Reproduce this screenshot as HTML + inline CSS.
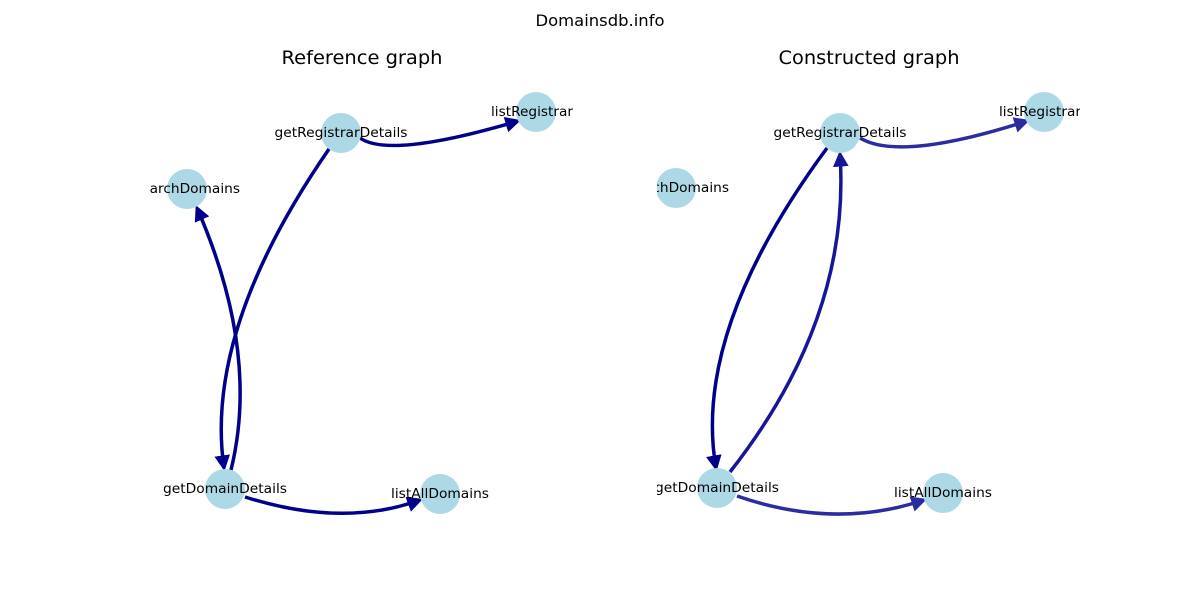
<!DOCTYPE html>
<html><head><meta charset="utf-8"><style>
html,body{margin:0;padding:0;background:#fff;}
svg text{font-family:"DejaVu Sans","Liberation Sans",sans-serif;}
</style></head><body>
<svg width="1200" height="600" viewBox="0 0 1200 600" xmlns="http://www.w3.org/2000/svg">
<defs>
<clipPath id="c1"><rect x="150" y="72" width="423" height="456"/></clipPath>
<clipPath id="c2"><rect x="657" y="72" width="423" height="456"/></clipPath>
<marker id="a1" viewBox="0 0 10 10" refX="8" refY="5" markerWidth="4.5" markerHeight="4.5" orient="auto" markerUnits="strokeWidth"><path d="M0,0 L10,5 L0,10 z" fill="#00008b"/></marker>
<marker id="a2" viewBox="0 0 10 10" refX="8" refY="5" markerWidth="4.5" markerHeight="4.5" orient="auto" markerUnits="strokeWidth"><path d="M0,0 L10,5 L0,10 z" fill="#2a2ca0"/></marker>
<marker id="a3" viewBox="0 0 10 10" refX="8" refY="5" markerWidth="4.5" markerHeight="4.5" orient="auto" markerUnits="strokeWidth"><path d="M0,0 L10,5 L0,10 z" fill="#16169a"/></marker>
</defs>
<rect width="1200" height="600" fill="#fff"/>
<text x="600" y="26" font-size="16" text-anchor="middle" textLength="129" lengthAdjust="spacingAndGlyphs">Domainsdb.info</text>
<text x="362" y="64" font-size="19" text-anchor="middle" textLength="161" lengthAdjust="spacingAndGlyphs">Reference graph</text>
<text x="869" y="64" font-size="19" text-anchor="middle" textLength="181" lengthAdjust="spacingAndGlyphs">Constructed graph</text>

<g clip-path="url(#c1)" fill="none" stroke-width="3.5">
<path d="M360,138 Q390,159 518,121" stroke="#00008b" marker-end="url(#a1)"/>
<path d="M329,149 Q204,330 224,468" stroke="#00008b" marker-end="url(#a1)"/>
<path d="M231,470 Q260,352 197,208" stroke="#00008b" marker-end="url(#a1)"/>
<path d="M245,497 Q343,528 420,500" stroke="#00008b" marker-end="url(#a1)"/>
<g fill="#add8e6" stroke="none">
<circle cx="341" cy="133" r="20"/><circle cx="536" cy="112" r="20"/>
<circle cx="187" cy="189" r="20"/><circle cx="225" cy="489" r="20"/>
<circle cx="440" cy="494" r="20"/>
</g>
<g fill="#000" stroke="none" font-size="13" text-anchor="middle">
<text x="341" y="137" textLength="133" lengthAdjust="spacingAndGlyphs">getRegistrarDetails</text>
<text x="532" y="116" textLength="82" lengthAdjust="spacingAndGlyphs">listRegistrar</text>
<text x="187" y="193" textLength="106" lengthAdjust="spacingAndGlyphs">searchDomains</text>
<text x="225" y="493" textLength="124" lengthAdjust="spacingAndGlyphs">getDomainDetails</text>
<text x="440" y="498" textLength="98" lengthAdjust="spacingAndGlyphs">listAllDomains</text>
</g>
</g>

<g clip-path="url(#c2)" fill="none" stroke-width="3.5">
<path d="M860,138 Q900,162 1027,121" stroke="#2a2ca0" marker-end="url(#a2)"/>
<path d="M827,148 Q692,331 716,468" stroke="#00008b" marker-end="url(#a1)"/>
<path d="M730,472 Q851,318 840,154" stroke="#16169a" marker-end="url(#a3)"/>
<path d="M737,496 Q835,530 924,500" stroke="#2a2ca0" marker-end="url(#a2)"/>
<g fill="#add8e6" stroke="none">
<circle cx="840" cy="133" r="20"/><circle cx="1044" cy="112" r="20"/>
<circle cx="676" cy="188" r="20"/><circle cx="717" cy="488" r="20"/>
<circle cx="943" cy="493" r="20"/>
</g>
<g fill="#000" stroke="none" font-size="13" text-anchor="middle">
<text x="840" y="137" textLength="133" lengthAdjust="spacingAndGlyphs">getRegistrarDetails</text>
<text x="1040" y="116" textLength="82" lengthAdjust="spacingAndGlyphs">listRegistrar</text>
<text x="676" y="192" textLength="106" lengthAdjust="spacingAndGlyphs">searchDomains</text>
<text x="717" y="492" textLength="124" lengthAdjust="spacingAndGlyphs">getDomainDetails</text>
<text x="943" y="497" textLength="98" lengthAdjust="spacingAndGlyphs">listAllDomains</text>
</g>
</g>
</svg>
</body></html>
